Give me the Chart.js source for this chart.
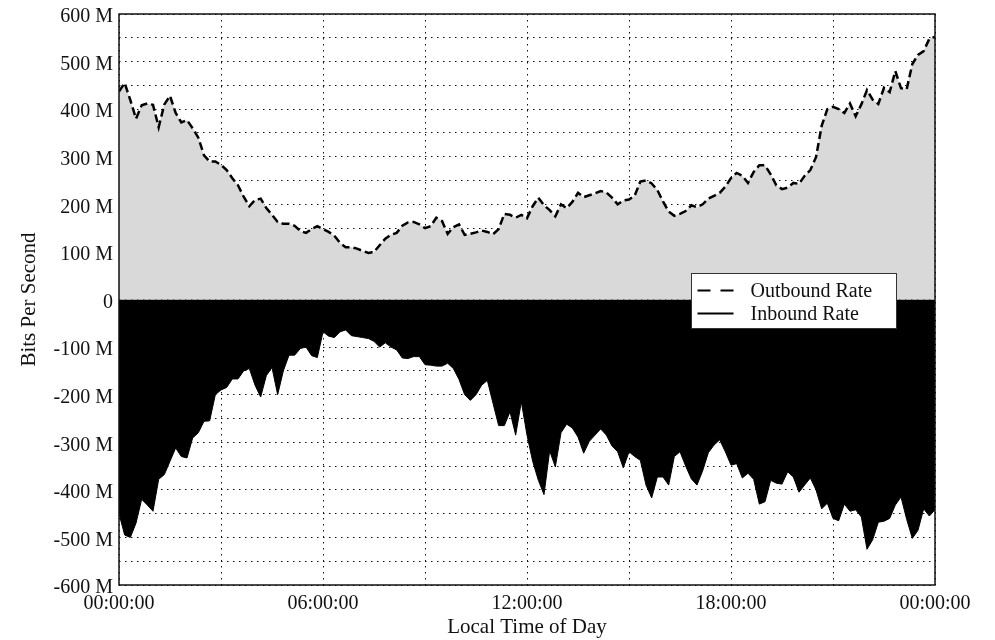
<!DOCTYPE html>
<html>
<head>
<meta charset="utf-8">
<script src="https://cdn.jsdelivr.net/npm/chart.js@4.4.1/dist/chart.umd.min.js"></script>
<style>
html,body{margin:0;padding:0;background:#fff;}
#wrap{position:relative;width:995px;height:640px;}
canvas{display:block;}
</style>
</head>
<body>
<div id="wrap"><canvas id="c" width="995" height="640"></canvas></div>
<script>
// Sampling step of the series (minutes)
const stepMinutes = 10;

// Outbound rate, Mbit/s (positive, grey area with dashed line)
const outboundRate = [
  437,455,419,380,408,412,409,362,410,428,
  392,372,377,360,340,303,290,290,283,272,
  255,240,216,196,209,212,192,178,163,159,
  159,155,144,140,148,154,148,142,134,119,
  110,110,107,102,98,100,114,128,136,140,
  155,162,163,158,150,154,172,165,138,152,
  158,136,138,141,145,142,137,148,180,178,
  172,178,171,196,214,198,188,175,200,192,
  205,224,215,219,223,228,225,214,200,208,
  210,218,248,250,244,230,206,185,176,180,
  186,198,194,200,212,218,224,237,255,266,
  260,245,268,282,282,263,240,232,235,245,
  243,260,272,299,365,400,405,400,392,412,
  385,410,440,420,411,445,436,480,444,442,
  495,514,522,548,552
];

// Inbound rate, Mbit/s (drawn negative, black area)
const inboundRate = [
  -450,-495,-500,-470,-420,-432,-445,-378,-368,-340,
  -312,-330,-333,-291,-280,-256,-255,-200,-190,-185,
  -167,-167,-150,-145,-180,-205,-160,-143,-200,-150,
  -117,-117,-103,-100,-118,-122,-68,-77,-80,-68,
  -64,-76,-78,-80,-82,-88,-100,-91,-100,-106,
  -123,-124,-120,-120,-137,-138,-140,-140,-134,-145,
  -168,-200,-212,-200,-180,-170,-218,-265,-265,-236,
  -285,-215,-285,-340,-380,-410,-318,-352,-280,-262,
  -270,-289,-323,-298,-285,-272,-285,-308,-320,-354,
  -320,-330,-338,-390,-417,-373,-373,-390,-330,-320,
  -350,-377,-390,-360,-322,-306,-295,-320,-348,-345,
  -375,-365,-378,-430,-425,-380,-386,-388,-362,-373,
  -405,-390,-375,-400,-440,-428,-460,-465,-430,-445,
  -442,-457,-525,-505,-468,-466,-460,-432,-415,-462,
  -502,-485,-440,-455,-442
];

// Time of each sample, in hours since midnight
const hours = outboundRate.map((_, i) => i * stepMinutes / 60);

const seriesLabels = ['Outbound Rate', 'Inbound Rate'];
const xLabelHours = [0, 6, 12, 18, 24];
const xTickLabels = ['00:00:00', '06:00:00', '12:00:00', '18:00:00', '00:00:00'];
const yLabelValues = [600, 500, 400, 300, 200, 100, 0, -100, -200, -300, -400, -500, -600];
const yTickLabels = ['600 M','500 M','400 M','300 M','200 M','100 M','0','-100 M','-200 M','-300 M','-400 M','-500 M','-600 M'];

const FONT = "'Liberation Serif', 'Times New Roman', serif";
Chart.defaults.font.family = FONT;
Chart.defaults.color = '#111';

const framePlugin = {
  id: 'frame',
  afterDraw(chart) {
    const {ctx, chartArea: a} = chart;
    ctx.save();
    ctx.strokeStyle = '#111';
    ctx.lineWidth = 1.5;
    ctx.strokeRect(a.left, a.top, a.right - a.left, a.bottom - a.top);
    ctx.restore();
  }
};

const boxLegend = {
  id: 'boxLegend',
  afterDraw(chart) {
    const {ctx, chartArea: a, scales} = chart;
    const x0 = Math.round(a.right - 244) + 0.5;
    const y0 = Math.round(scales.y.getPixelForValue(0) - 27) + 0.5;
    const w = 205, h = 55;
    ctx.save();
    ctx.fillStyle = '#fff';
    ctx.fillRect(x0, y0, w, h);
    ctx.strokeStyle = '#333';
    ctx.lineWidth = 1;
    ctx.strokeRect(x0, y0, w, h);
    chart.data.datasets.forEach((ds, i) => {
      const cy = y0 + 17 + i * 23;
      ctx.beginPath();
      ctx.setLineDash(i === 0 ? [13, 10] : []);
      ctx.lineWidth = 2;
      ctx.strokeStyle = '#000';
      ctx.moveTo(x0 + 6, cy);
      ctx.lineTo(x0 + 42, cy);
      ctx.stroke();
      ctx.setLineDash([]);
      ctx.fillStyle = '#111';
      ctx.font = '20px ' + FONT;
      ctx.textBaseline = 'middle';
      ctx.textAlign = 'left';
      ctx.fillText(ds.label, x0 + 59, cy + 1);
    });
    ctx.restore();
  }
};

new Chart(document.getElementById('c'), {
  type: 'line',
  data: {
    datasets: [
      {
        label: seriesLabels[0],
        data: hours.map((h, i) => ({x: h, y: outboundRate[i]})),
        borderColor: '#000',
        borderWidth: 2.5,
        borderDash: [8, 4],
        backgroundColor: '#d9d9d9',
        fill: 'origin',
        pointRadius: 0,
        tension: 0
      },
      {
        label: seriesLabels[1],
        data: hours.map((h, i) => ({x: h, y: inboundRate[i]})),
        borderColor: '#000',
        borderWidth: 1,
        backgroundColor: '#000',
        fill: 'origin',
        pointRadius: 0,
        tension: 0
      }
    ]
  },
  options: {
    responsive: false,
    animation: false,
    devicePixelRatio: 1,
    layout: {padding: {left: 0, right: 60, top: 14, bottom: 0}},
    plugins: {legend: {display: false}, tooltip: {enabled: false}},
    scales: {
      x: {
        type: 'linear',
        min: 0, max: 24,
        afterFit(s) { s.height = 55; s.paddingLeft = 0; s.paddingRight = 0; },
        ticks: {
          stepSize: 3,
          autoSkip: false,
          maxRotation: 0,
          padding: 7,
          font: {size: 20},
          color: '#111',
          callback(v) { const k = xLabelHours.indexOf(v); return k >= 0 ? xTickLabels[k] : ''; }
        },
        grid: {color: '#111', lineWidth: 1, drawTicks: false},
        border: {display: false, dash: [1.5, 4.5]},
        title: {display: true, text: 'Local Time of Day', font: {size: 21}, color: '#111', padding: {top: 0, bottom: 0}}
      },
      y: {
        min: -600, max: 600,
        afterFit(s) { s.width = 119; s.paddingTop = 0; s.paddingBottom = 0; },
        ticks: {
          stepSize: 50,
          autoSkip: false,
          padding: 6,
          labelOffset: 3,
          font: {size: 20},
          color: '#111',
          callback(v) { const k = yLabelValues.indexOf(v); return k >= 0 ? yTickLabels[k] : ''; }
        },
        grid: {color: '#111', lineWidth: 1, drawTicks: false},
        border: {display: false, dash: [1.5, 4.5]},
        title: {display: true, text: 'Bits Per Second', font: {size: 21}, color: '#111', padding: {top: 17, bottom: 0}}
      }
    }
  },
  plugins: [framePlugin, boxLegend]
});
</script>
</body>
</html>
